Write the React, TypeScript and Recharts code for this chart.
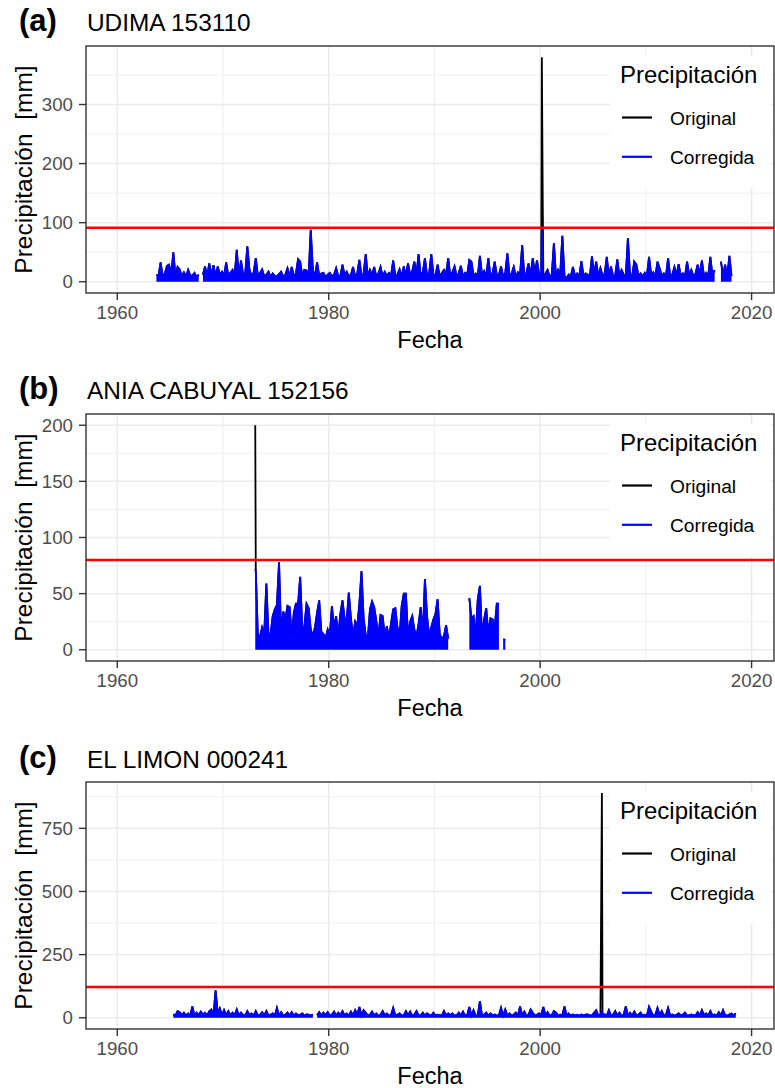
import { Area, CartesianGrid, ComposedChart, ReferenceLine, XAxis, YAxis } from "recharts";

type Row = [number, ...(number | null)[]];
// [date as decimal year, original value, corrected value]
type Outlier = [number, number, number];

// Readings, five per year (one every 0.2 yr), mm.
// null = no data for that stretch.
const udimaRows: Row[] = [
  [1963, null, null, null, 12, 10],
  [1964, 33, 9, 14, 27, 29],
  [1965, 12, 50, 10, 25, 21],
  [1966, 10, 16, 9, 20, 11],
  [1967, 10, 15, 8, 12, null],
  [1968, 12, 26, 9, 31, 11],
  [1969, 28, 9, 26, 12, 17],
  [1970, 10, 33, 11, 15, 20],
  [1971, 11, 54, 9, 36, 12],
  [1972, 13, 60, 21, 9, 16],
  [1973, 40, 10, 15, 21, 9],
  [1974, 12, 17, 8, 14, 10],
  [1975, 9, 13, 17, 8, 12],
  [1976, 23, 9, 25, 10, 14],
  [1977, 38, 34, 10, 20, 19],
  [1978, 12, 88, 20, 9, 33],
  [1979, 10, 14, 15, 8, 12],
  [1980, 15, 9, 12, 23, 10],
  [1981, 10, 29, 11, 17, 9],
  [1982, 12, 25, 9, 14, 37],
  [1983, 10, 14, 47, 9, 20],
  [1984, 11, 25, 9, 14, 25],
  [1985, 9, 17, 10, 15, 11],
  [1986, 36, 10, 12, 21, 9],
  [1987, 26, 10, 31, 12, 18],
  [1988, 34, 12, 47, 10, 16],
  [1989, 40, 10, 14, 47, 12],
  [1990, 11, 29, 9, 15, 20],
  [1991, 12, 40, 10, 16, 26],
  [1992, 10, 14, 27, 9, 15],
  [1993, 12, 37, 34, 10, 14],
  [1994, 10, 44, 12, 18, 9],
  [1995, 40, 10, 15, 34, 11],
  [1996, 12, 26, 9, 15, 48],
  [1997, 10, 14, 25, 9, 16],
  [1998, 12, 62, 10, 15, 31],
  [1999, 11, 40, 14, 36, 12],
  [2000, 14, 10, 14, 20, 9],
  [2001, 12, 65, 9, 20, 14],
  [2002, 78, 10, 6, 12, 9],
  [2003, 25, 10, 14, 9, 35],
  [2004, 10, 14, 12, 9, 43],
  [2005, 12, 34, 9, 23, 11],
  [2006, 13, 42, 10, 26, 9],
  [2007, 11, 38, 9, 20, 12],
  [2008, 10, 74, 12, 9, 34],
  [2009, 29, 10, 14, 9, 15],
  [2010, 10, 42, 12, 16, 9],
  [2011, 34, 23, 10, 14, 9],
  [2012, 40, 10, 12, 25, 11],
  [2013, 30, 10, 14, 9, 34],
  [2014, 11, 20, 9, 14, 29],
  [2015, 12, 36, 9, 15, 10],
  [2016, 42, 10, 20, null, null],
  [2017, 34, 12, 29, 9, 44],
  [2018, 10, null, null, null, null],
];

const aniaRows: Row[] = [
  [1973, 70, 12, 12, 20, 14],
  [1974, 59, 14, 14, 30, 36],
  [1975, 40, 78, 12, 34, 27],
  [1976, 39, 38, 12, 33, 41],
  [1977, 41, 65, 18, 21, 41],
  [1978, 37, 18, 12, 20, 33],
  [1979, 44, 16, 14, 10, 18],
  [1980, 12, 39, 20, 30, 12],
  [1981, 32, 44, 28, 26, 51],
  [1982, 28, 12, 25, 21, 41],
  [1983, 70, 28, 13, 10, 36],
  [1984, 43, 38, 26, 12, 31],
  [1985, 30, 12, 21, 10, 24],
  [1986, 36, 37, 20, 12, 39],
  [1987, 50, 50, 12, 25, 30],
  [1988, 18, 12, 23, 38, 12],
  [1989, 63, 30, 12, 20, 27],
  [1990, 32, 45, 14, 10, 12],
  [1991, 22, 10, null, null, null],
  [1992, null, null, null, null, null],
  [1993, null, 46, 28, 30, 12],
  [1994, 45, 57, 12, 27, 37],
  [1995, 14, 28, 27, 20, 41],
  [1996, 41, null, 9, 9, null],
];

const limonRows: Row[] = [
  [1965, null, 14, 8, 26, 22],
  [1966, 10, 20, 9, 17, 8],
  [1967, 45, 9, 20, 10, 24],
  [1968, 13, 20, 8, 26, 33],
  [1969, 9, 109, 17, 37, 10],
  [1970, 30, 10, 26, 9, 20],
  [1971, 10, 33, 9, 20, 11],
  [1972, 9, 26, 10, 17, 8],
  [1973, 26, 9, 12, 22, 8],
  [1974, 26, 9, 12, 17, 8],
  [1975, 39, 9, 22, 8, 12],
  [1976, 20, 9, 22, 8, 17],
  [1977, 9, 12, 17, 8, 13],
  [1978, 12, 9, 13, null, 10],
  [1979, 22, 9, 20, 10, 22],
  [1980, 9, 12, 24, 8, 20],
  [1981, 10, 26, 9, 17, 8],
  [1982, 24, 9, 30, 12, 43],
  [1983, 9, 30, 20, 9, 12],
  [1984, 24, 9, 17, 8, 12],
  [1985, 26, 9, 17, 8, 12],
  [1986, 39, 9, 12, 17, 8],
  [1987, 10, 26, 9, 24, 8],
  [1988, 12, 26, 9, 10, 20],
  [1989, 9, 17, 12, 8, 20],
  [1990, 9, 12, 10, 8, 26],
  [1991, 9, 17, 10, 17, 8],
  [1992, 10, 20, 9, 24, 8],
  [1993, 10, 43, 9, 30, 8],
  [1994, 10, 65, 9, 12, 20],
  [1995, 9, 17, 10, 13, 8],
  [1996, 10, 39, 9, 33, 8],
  [1997, 17, 9, 12, 20, 8],
  [1998, 45, 9, 24, 8, 12],
  [1999, 33, 20, 9, 12, 17],
  [2000, 10, 43, 9, 22, 8],
  [2001, 10, 26, 20, 9, 12],
  [2002, 10, 45, 9, 17, 8],
  [2003, 13, 9, 12, 8, 13],
  [2004, 9, 12, 13, 8, 10],
  [2005, 20, 30, 9, 12, 14],
  [2006, 13, 9, 30, 8, 12],
  [2007, 26, 9, 20, 8, 12],
  [2008, 45, 9, 20, 8, 24],
  [2009, 10, 12, 20, 8, 12],
  [2010, 9, 43, 24, 8, 12],
  [2011, 39, 9, 26, 8, 12],
  [2012, 39, 9, 13, 8, 12],
  [2013, 17, 9, 12, 20, 8],
  [2014, 9, 13, 10, 8, 22],
  [2015, 9, 30, 10, 17, 8],
  [2016, 26, 9, 13, 8, 22],
  [2017, 9, 30, 10, 8, 13],
  [2018, 17, 9, 17, null, null],
];

// days flagged as outliers: original reading and the corrected value
const udimaOutliers: Outlier[] = [[2000.16, 380, 90], [2000.24, 150, 12]];
const aniaOutliers: Outlier[] = [[1973.05, 200, 72]];
const limonOutliers: Outlier[] = [[2005.84, 890, 26]];

const xMajor = [1960, 1980, 2000, 2020];
const xMinor = [1970, 1990, 2010];
const xDomain = [1957.04, 2022.12];

const FONT = "'Liberation Sans', Arial, Helvetica, sans-serif";
const PLOT_H = 247;

type Point = { t: number; original: number | null; corregida: number | null };

function toSeries(rows: Row[], outliers: Outlier[]) {
  const out: Point[] = [];
  rows.forEach(([year, ...vals]) => {
    vals.forEach((v, k) => {
      const t = Math.round((year + 0.2 * k + 0.1) * 10) / 10;
      out.push({ t, corregida: v, original: v });
    });
  });
  outliers.forEach(([t, orig, corr]) => out.push({ t, original: orig, corregida: corr }));
  return out.sort((a, b) => a.t - b.t);
}

const panels = [
  {
    tag: "(a)",
    name: "UDIMA 153110",
    data: toSeries(udimaRows, udimaOutliers),
    threshold: 91.5,
    yDomain: [-19, 399],
    yTicks: [0, 100, 200, 300],
    yMinor: [50, 150, 250, 350],
    top: 0,
    mt: 46,
  },
  {
    tag: "(b)",
    name: "ANIA CABUYAL 152156",
    data: toSeries(aniaRows, aniaOutliers),
    threshold: 80,
    yDomain: [-10, 210],
    yTicks: [0, 50, 100, 150, 200],
    yMinor: [25, 75, 125, 175],
    top: 368,
    mt: 46,
  },
  {
    tag: "(c)",
    name: "EL LIMON 000241",
    data: toSeries(limonRows, limonOutliers),
    threshold: 122,
    yDomain: [-44.5, 933.5],
    yTicks: [0, 250, 500, 750],
    yMinor: [125, 375, 625, 875],
    top: 737,
    mt: 45,
  },
];

const tickStyle = { fill: "#4D4D4D", fontSize: 18.7, fontFamily: FONT };
const tickLineStyle = { stroke: "#333333", strokeWidth: 1.4 };

export default function App() {
  return (
    <div
      style={{
        position: "absolute",
        left: 0,
        top: 0,
        width: 775,
        height: 1088,
        background: "#fff",
        fontFamily: FONT,
      }}
    >
      {panels.map((p) => (
        <div key={p.tag} style={{ position: "absolute", left: 0, top: p.top }}>
          <ComposedChart
            width={775}
            height={369}
            data={p.data}
            margin={{ top: p.mt, right: 1, bottom: 0, left: 0 }}
          >
            <CartesianGrid
              stroke="#EBEBEB"
              strokeWidth={0.8}
              verticalValues={xMinor}
              horizontalValues={p.yMinor}
            />
            <CartesianGrid
              stroke="#EBEBEB"
              strokeWidth={1.5}
              verticalValues={xMajor}
              horizontalValues={p.yTicks}
            />
            <XAxis
              dataKey="t"
              type="number"
              domain={xDomain}
              ticks={xMajor}
              interval={0}
              allowDataOverflow
              height={369 - p.mt - PLOT_H}
              tick={tickStyle}
              tickLine={tickLineStyle}
              tickSize={7}
              tickMargin={6}
              axisLine={false}
            />
            <YAxis
              type="number"
              domain={p.yDomain}
              ticks={p.yTicks}
              interval={0}
              allowDataOverflow
              width={86}
              tick={tickStyle}
              tickLine={tickLineStyle}
              tickSize={7}
              tickMargin={6}
              axisLine={false}
            />
            {/* original drawn first as a plain line, the corrected series covers it where equal */}
            <Area
              dataKey="original"
              type="linear"
              baseValue={0}
              stroke="#000000"
              strokeWidth={1.8}
              fill="none"
              dot={false}
              activeDot={false}
              isAnimationActive={false}
            />
            <Area
              dataKey="corregida"
              type="linear"
              baseValue={0}
              stroke="#0000FF"
              strokeWidth={1.8}
              fill="#0000FF"
              fillOpacity={1}
              dot={false}
              activeDot={false}
              isAnimationActive={false}
            />
            <ReferenceLine y={p.threshold} stroke="#FF0000" strokeWidth={2.4} />
          </ComposedChart>
        </div>
      ))}

      <svg
        width={775}
        height={1088}
        style={{ position: "absolute", left: 0, top: 0, pointerEvents: "none" }}
        fontFamily={FONT}
      >
        {panels.map((p) => {
          const o = p.top + p.mt;
          const yMid = o + PLOT_H / 2;
          return (
            <g key={p.tag}>
              <rect x={86} y={o} width={688} height={PLOT_H} fill="none" stroke="#333333" strokeWidth={1.4} />
              <rect x={610} y={o + 10} width={161} height={132} fill="#ffffff" />
              <text x={620} y={o + 37.3} fontSize={24}>Precipitación</text>
              <line x1={622} x2={652} y1={o + 71.5} y2={o + 71.5} stroke="#000000" strokeWidth={2.2} />
              <text x={670} y={o + 79} fontSize={19.2}>Original</text>
              <line x1={622} x2={652} y1={o + 110.8} y2={o + 110.8} stroke="#0000FF" strokeWidth={2.2} />
              <text x={670} y={o + 117.5} fontSize={19.2}>Corregida</text>

              <text x={19} y={p.top + 31} fontSize={31} fontWeight="bold">{p.tag}</text>
              <text x={87} y={p.top + 30.5} fontSize={24.4}>{p.name}</text>

              <text
                x={31.7}
                y={yMid}
                fontSize={24.5}
                textAnchor="middle"
                transform={`rotate(-90 31.7 ${yMid})`}
                style={{ whiteSpace: "pre" }}
              >
                {"Precipitación  [mm]"}
              </text>
              <text x={430} y={o + 302} fontSize={23.5} textAnchor="middle">Fecha</text>
            </g>
          );
        })}
      </svg>
    </div>
  );
}
